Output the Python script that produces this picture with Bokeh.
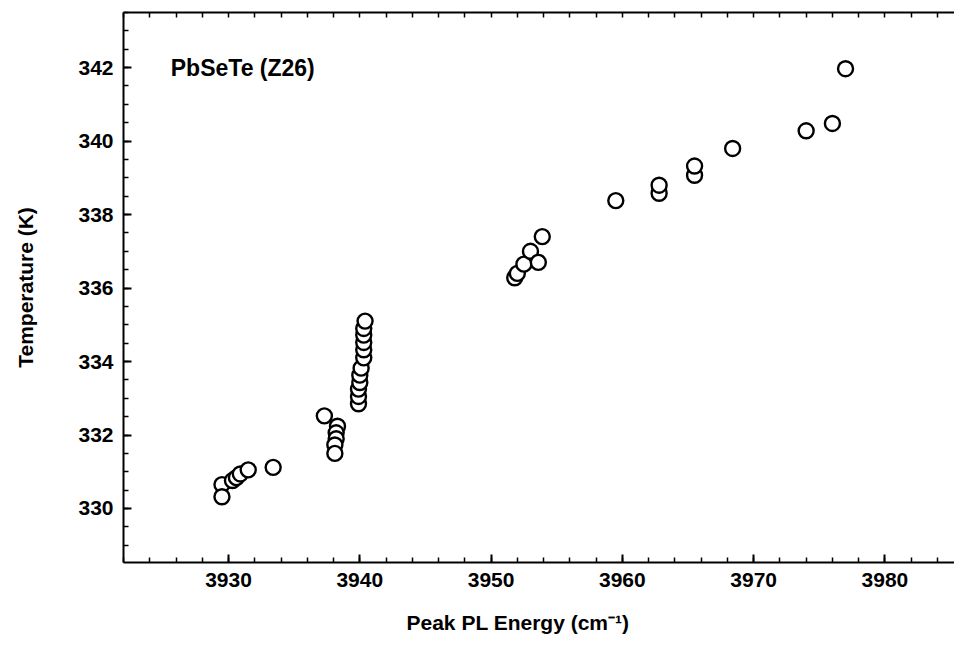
from bokeh.plotting import figure
from bokeh.models import Range1d, LinearAxis, SingleIntervalTicker, FixedTicker, Label, Title
from bokeh.embed import file_html
from bokeh.resources import INLINE

# Data
energy = [3929.5, 3929.5, 3930.3, 3930.6, 3930.9, 3931.5, 3933.4,
          3937.3, 3938.3, 3938.2, 3938.2, 3938.1, 3938.1,
          3939.9, 3939.9, 3939.9, 3940.0, 3940.0, 3940.1, 3940.3, 3940.3, 3940.3, 3940.3, 3940.3, 3940.4,
          3951.8, 3952.0, 3952.5, 3953.0, 3953.6, 3953.9,
          3959.5, 3962.8, 3962.8, 3965.5, 3965.5, 3968.4, 3974.0, 3976.0, 3977.0]
temperature = [330.65, 330.32, 330.76, 330.84, 330.94, 331.05, 331.12,
               332.52, 332.24, 332.06, 331.90, 331.73, 331.50,
               332.85, 333.05, 333.25, 333.43, 333.63, 333.82, 334.10, 334.32, 334.52, 334.72, 334.90, 335.10,
               336.28, 336.40, 336.65, 337.00, 336.70, 337.40,
               338.38, 338.58, 338.80, 339.07, 339.32, 339.80, 340.28, 340.48, 341.97]

x_title = "Peak PL Energy (cm\u207b\u00b9)"
y_title = "Temperature (K)"
sample_label = "PbSeTe (Z26)"
top_tick_positions = list(range(3922, 3986, 2))

FONT = "Liberation Sans"

p = figure(width=954, height=655, output_backend="svg", toolbar_location=None,
           x_range=Range1d(3922, 3985.3), y_range=Range1d(328.53, 343.5),
           min_border_left=123, min_border_right=0, min_border_top=12, min_border_bottom=93)
p.outline_line_color = None
p.xgrid.visible = False
p.ygrid.visible = False
p.background_fill_color = "white"
p.border_fill_color = "white"

p.xaxis.ticker = SingleIntervalTicker(interval=10, num_minor_ticks=5)
p.yaxis.ticker = SingleIntervalTicker(interval=2, num_minor_ticks=4)

for ax in (p.xaxis[0], p.yaxis[0]):
    ax.axis_line_color = "black"
    ax.axis_line_width = 2
    ax.major_tick_line_color = "black"
    ax.minor_tick_line_color = "black"
    ax.major_tick_line_width = 2
    ax.minor_tick_line_width = 1.5
    ax.major_tick_in = 8
    ax.major_tick_out = 0
    ax.minor_tick_in = 5
    ax.minor_tick_out = 0
    ax.major_label_text_font = FONT
    ax.major_label_text_font_style = "bold"
    ax.major_label_text_font_size = "21px"
    ax.major_label_text_color = "black"
    ax.major_label_standoff = 10

p.yaxis.axis_label = y_title
p.yaxis.axis_label_text_font = FONT
p.yaxis.axis_label_text_font_style = "bold"
p.yaxis.axis_label_text_font_size = "21px"
p.yaxis.axis_label_text_color = "black"
p.yaxis.axis_label_standoff = 38

top = LinearAxis(ticker=FixedTicker(ticks=[], minor_ticks=top_tick_positions))
top.axis_line_width = 2
top.axis_line_color = "black"
top.minor_tick_line_width = 1.5
top.minor_tick_line_color = "black"
top.minor_tick_in = 5
top.minor_tick_out = 0
p.add_layout(top, "above")

p.scatter(energy, temperature, marker="circle", size=15, fill_color="white",
          line_color="black", line_width=2.4)

p.add_layout(Label(x=3925.6, y=342.0, text=sample_label, text_font=FONT,
                   text_font_style="bold", text_font_size="23px",
                   text_baseline="middle", text_align="left", text_color="black"))

p.add_layout(Title(text=x_title, align="left", offset=283, text_font=FONT,
                   text_font_style="bold", text_font_size="21px",
                   text_color="black", standoff=39), "below")

open("out.html", "w").write(file_html(p, INLINE))
